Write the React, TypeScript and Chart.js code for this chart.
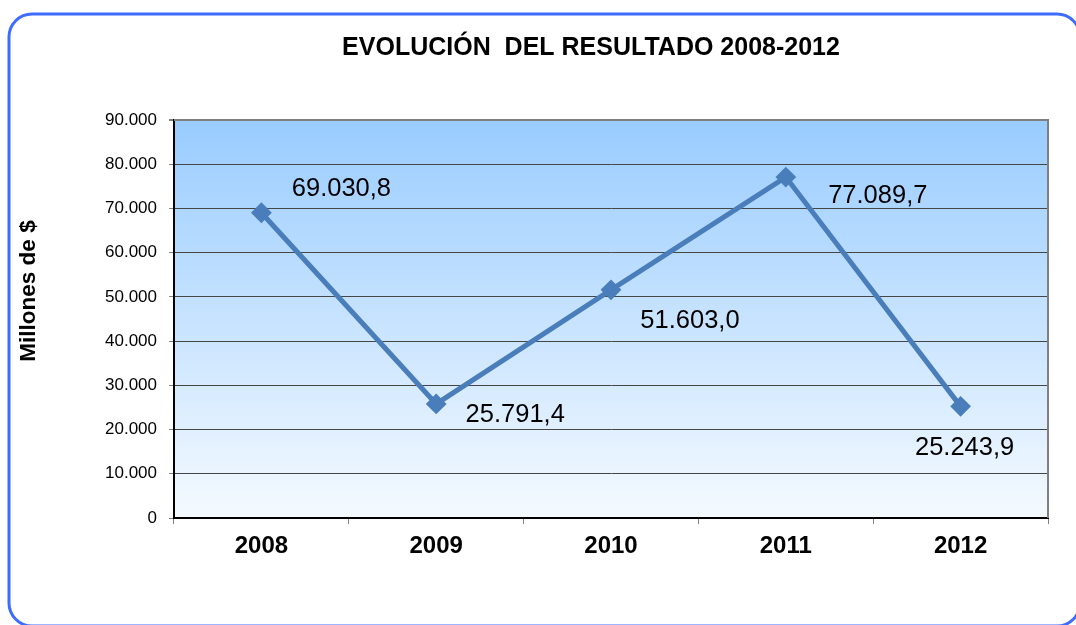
import React, { useEffect, useRef } from "react";
import { Chart, registerables } from "chart.js";

Chart.register(...registerables);

const categories = ["2008", "2009", "2010", "2011", "2012"];
const resultado = [69030.8, 25791.4, 51603.0, 77089.7, 25243.9];
const yTicks = [0, 10000, 20000, 30000, 40000, 50000, 60000, 70000, 80000, 90000];
const chartTitle = "EVOLUCIÓN  DEL RESULTADO 2008-2012";
const yTitle = "Millones de $";

const FONT = "'Liberation Sans', Arial, Helvetica, sans-serif";

function thousands(v: number): string {
  return String(Math.round(v)).replace(/\B(?=(\d{3})+(?!\d))/g, ".");
}
function decimalLabel(v: number): string {
  const [i, d] = v.toFixed(1).split(".");
  return thousands(Number(i)) + "," + d;
}

// label placement relative to the point (pixels)
const labelOffsets = [
  [80, -24],
  [79, 11],
  [79, 31],
  [92, 19],
  [4, 42],
];

const framePlugin = {
  id: "framePlugin",
  beforeDraw(chart: any) {
    const { ctx, chartArea } = chart;
    ctx.save();
    const x0 = 9, y0 = 14, x1 = 1080, y1 = 626, r = 23;
    ctx.beginPath();
    ctx.moveTo(x0 + r, y0);
    ctx.lineTo(x1 - r, y0);
    ctx.arcTo(x1, y0, x1, y0 + r, r);
    ctx.lineTo(x1, y1 - r);
    ctx.arcTo(x1, y1, x1 - r, y1, r);
    ctx.lineTo(x0 + r, y1);
    ctx.arcTo(x0, y1, x0, y1 - r, r);
    ctx.lineTo(x0, y0 + r);
    ctx.arcTo(x0, y0, x0 + r, y0, r);
    ctx.closePath();
    ctx.lineWidth = 3;
    ctx.strokeStyle = "#3d6cff";
    ctx.stroke();
    const g = ctx.createLinearGradient(0, chartArea.top, 0, chartArea.bottom);
    g.addColorStop(0, "#99ccff");
    g.addColorStop(1, "#f5faff");
    ctx.fillStyle = g;
    ctx.fillRect(chartArea.left, chartArea.top, chartArea.right - chartArea.left, chartArea.bottom - chartArea.top);
    ctx.fillStyle = "#000";
    ctx.font = `bold 25px ${FONT}`;
    ctx.textAlign = "center";
    ctx.textBaseline = "alphabetic";
    ctx.fillText(chartTitle, 591, 55);
    ctx.translate(29, 291);
    ctx.rotate(-Math.PI / 2);
    ctx.font = `bold 22.5px ${FONT}`;
    ctx.textBaseline = "middle";
    ctx.fillText(yTitle, 0, 0);
    ctx.restore();
  },
  beforeDatasetsDraw(chart: any) {
    const { ctx, chartArea } = chart;
    ctx.save();
    ctx.strokeStyle = "#808080";
    ctx.lineWidth = 2;
    ctx.beginPath();
    ctx.moveTo(chartArea.left, chartArea.top);
    ctx.lineTo(chartArea.right, chartArea.top);
    ctx.lineTo(chartArea.right, chartArea.bottom);
    ctx.stroke();
    ctx.restore();
  },
  afterDatasetsDraw(chart: any) {
    const { ctx } = chart;
    const meta = chart.getDatasetMeta(0);
    ctx.save();
    ctx.fillStyle = "#000";
    ctx.font = `25.5px ${FONT}`;
    ctx.textAlign = "center";
    ctx.textBaseline = "middle";
    meta.data.forEach((pt: any, i: number) => {
      const [dx, dy] = labelOffsets[i];
      ctx.fillText(decimalLabel(resultado[i]), pt.x + dx, pt.y + dy);
    });
    ctx.restore();
  },
};

export default function App() {
  const ref = useRef<HTMLCanvasElement | null>(null);
  useEffect(() => {
    if (!ref.current) return;
    const chart = new Chart(ref.current, {
      type: "line",
      data: {
        labels: categories,
        datasets: [
          {
            data: resultado,
            borderColor: "#4a7ebb",
            backgroundColor: "#4a7ebb",
            borderWidth: 5,
            pointStyle: "rectRot",
            pointRadius: 9,
            pointBorderWidth: 2,
            pointBackgroundColor: "#4a7ebb",
            pointBorderColor: "#4a7ebb",
            tension: 0,
          },
        ],
      },
      options: {
        responsive: false,
        animation: false,
        layout: { padding: { left: 0, right: 28, top: 120, bottom: 0 } },
        plugins: {
          legend: { display: false },
          title: { display: false },
          tooltip: { enabled: false },
        },
        scales: {
          x: {
            type: "category",
            offset: true,
            grid: {
              offset: true,
              drawOnChartArea: false,
              drawTicks: true,
              tickLength: 6,
              color: "#808080",
            },
            border: { display: true, color: "#000", width: 2 },
            ticks: {
              color: "#000",
              font: { family: FONT, size: 24, weight: "bold" },
              padding: 8,
              maxRotation: 0,
            },
            afterFit(scale: any) {
              scale.height = 107;
            },
          },
          y: {
            min: 0,
            max: 90000,
            afterBuildTicks(scale: any) {
              scale.ticks = yTicks.map((v) => ({ value: v }));
            },
            grid: {
              color: (c: any) => (c.tick && c.tick.value === 90000 ? "#808080" : "#464646"),
              lineWidth: (c: any) => (c.tick && c.tick.value === 90000 ? 2 : 1),
              tickLength: 5,
              tickColor: "#808080",
            },
            border: { display: true, color: "#000", width: 2 },
            ticks: {
              color: "#000",
              font: { family: FONT, size: 17 },
              padding: 12,
              callback: (v: any) => thousands(Number(v)),
            },
            afterFit(scale: any) {
              scale.width = 174;
            },
          },
        },
      },
      plugins: [framePlugin],
    } as any);
    return () => chart.destroy();
  }, []);
  return (
    <div style={{ position: "fixed", left: 0, top: 0, width: 1076, height: 625, background: "#fff" }}>
      <canvas ref={ref} width={1076} height={625} style={{ display: "block" }} />
    </div>
  );
}
